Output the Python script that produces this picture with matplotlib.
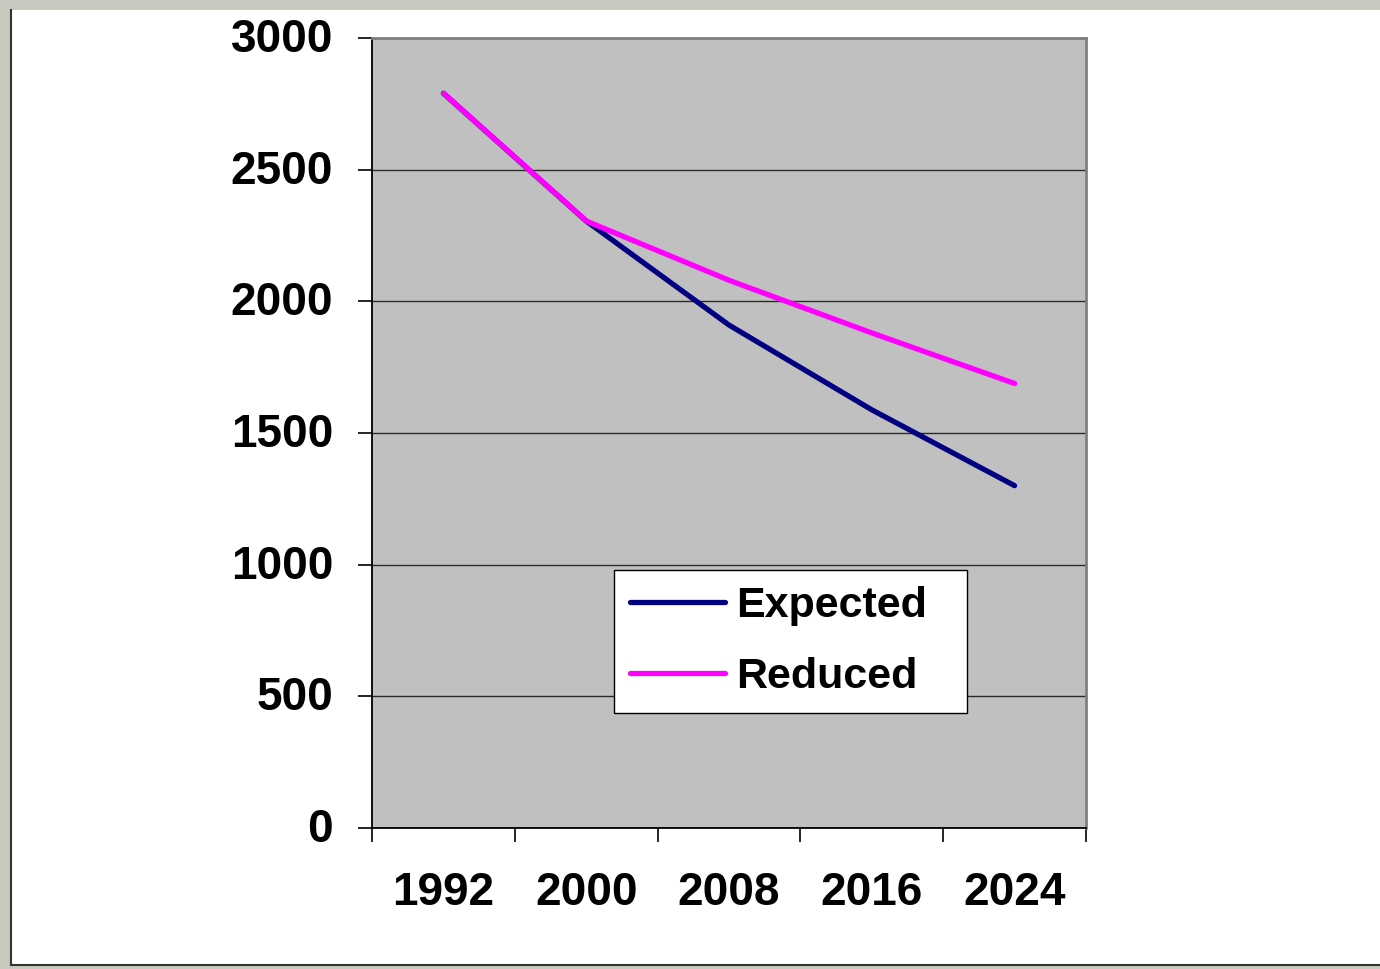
import matplotlib
matplotlib.use("Agg")
import matplotlib.pyplot as plt
import matplotlib.transforms as mtransforms
from matplotlib.patches import Rectangle
import numpy as np

years = ["1992", "2000", "2008", "2016", "2024"]
expected = [2790, 2305, 1910, 1588, 1300]
reduced = [2790, 2305, 2080, 1880, 1688]
y_ticks = [0, 500, 1000, 1500, 2000, 2500, 3000]

plt.rcParams["font.family"] = ["Liberation Sans", "DejaVu Sans"]
plt.rcParams["font.weight"] = "bold"

W, H = 1380, 969
fig = plt.figure(figsize=(W / 100, H / 100), dpi=100, facecolor="#C8C8BE")

# white slide panel with a dark rim on the left and bottom
panel = Rectangle((11 / W, (H - 965) / H), 1 - 11 / W, (965 - 10) / H,
                  transform=fig.transFigure, facecolor="white",
                  edgecolor="none", zorder=-5)
fig.add_artist(panel)
fig.add_artist(plt.Line2D([11 / W, 11 / W], [(H - 965) / H, (H - 10) / H],
                          transform=fig.transFigure, color="#333333", lw=1.5, zorder=-4))
fig.add_artist(plt.Line2D([11 / W, 1], [(H - 965) / H, (H - 965) / H],
                          transform=fig.transFigure, color="#333333", lw=1.5, zorder=-4))

left, right, top, bottom = 372, 1086, 38, 828
ax = fig.add_axes([left / W, (H - bottom) / H, (right - left) / W, (bottom - top) / H])
ax.set_facecolor("#C0C0C0")

x = np.arange(len(years))
ax.plot(x, expected, color="#000080", lw=3.8, solid_capstyle="round",
        solid_joinstyle="round", label="Expected", zorder=3)
ax.plot(x, reduced, color="#FF00FF", lw=3.8, solid_capstyle="round",
        solid_joinstyle="round", label="Reduced", zorder=4)

ax.set_xlim(-0.5, len(years) - 0.5)
ax.set_ylim(0, 3000)
ax.set_yticks(y_ticks)
ax.set_yticklabels([str(v) for v in y_ticks])
ax.yaxis.grid(True, color="#2a2a2a", lw=1.0)
ax.set_axisbelow(True)

ax.set_xticks(x)
ax.set_xticklabels(years)
ax.set_xticks(np.arange(len(years) + 1) - 0.5, minor=True)
ax.tick_params(axis="x", which="major", length=0, pad=31, labelsize=33)
ax.tick_params(axis="x", which="minor", length=10, width=1.2, direction="out", color="black")
ax.tick_params(axis="y", length=10, width=1.2, direction="out", pad=18, labelsize=33)

# value labels sit a touch above their gridlines
shift = mtransforms.ScaledTranslation(0, 3 / 100, fig.dpi_scale_trans)
for lab in ax.get_yticklabels():
    lab.set_transform(lab.get_transform() + shift)

for s in ("top", "right"):
    ax.spines[s].set_color("#808080")
    ax.spines[s].set_linewidth(2)
for s in ("left", "bottom"):
    ax.spines[s].set_color("black")
    ax.spines[s].set_linewidth(1.3)

leg = ax.legend(loc="lower left",
                bbox_to_anchor=(614 / W, (H - 713) / H, 353 / W, 143 / H),
                bbox_transform=fig.transFigure, mode="expand",
                frameon=True, fancybox=False,
                fontsize=31, handlelength=2.2, handletextpad=0.26,
                labelspacing=0.72, borderpad=0.37, borderaxespad=0)
leg.get_frame().set_edgecolor("black")
leg.get_frame().set_linewidth(1.0)
leg.get_frame().set_facecolor("white")
leg.get_frame().set_alpha(1)
leg.set_zorder(10)

fig.savefig("out.png", dpi=100, facecolor=fig.get_facecolor())
